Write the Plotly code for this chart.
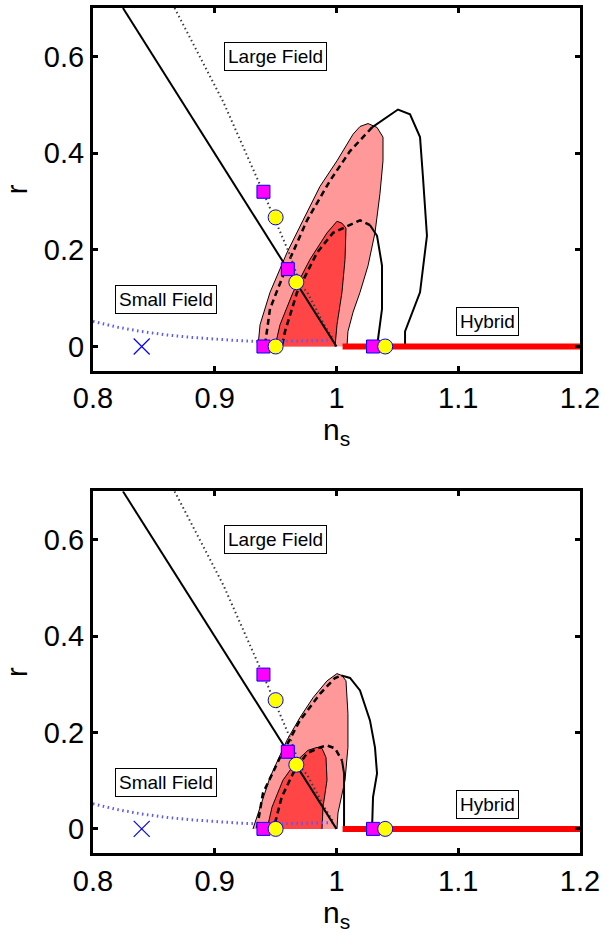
import plotly.graph_objects as go

# ---------------- data ----------------
# boundary line between large and small field models
ls_ns = [0.8246, 1.0]
ls_r = [0.70, 0.0]

# phi^p family (gray dotted)
php_ns = [0.867, 0.907, 0.940, 0.952, 0.962, 0.970, 0.976, 0.990, 0.997]
php_r = [0.70, 0.506, 0.318, 0.249, 0.188, 0.129, 0.112, 0.045, 0.016]

# small field curve (blue dotted)
sf_ns = [0.80, 0.82, 0.84, 0.86, 0.88, 0.90, 0.92, 0.94, 0.96, 0.98, 0.997]
sf_r = [0.052, 0.040, 0.031, 0.024, 0.019, 0.015, 0.012, 0.010, 0.011, 0.012, 0.013]

# hybrid line
hy_ns = [1.005, 1.2]
hy_r = [0.0, 0.0]

# X mark
x_ns = [0.84]
x_r = [0.0]

# model points
sq_ns = [0.94, 0.96, 0.94, 1.03]
sq_r = [0.32, 0.16, 0.0, 0.0]
ci_ns = [0.95, 0.967, 0.95, 1.04]
ci_r = [0.267, 0.133, 0.0, 0.0]

# ---- top panel contours ----
t_out_ns = [0.9355, 0.9372, 0.9454, 0.9593, 0.9725, 0.9864, 1.0004, 1.0136, 1.0193, 1.0259,
            1.0333, 1.0382, 1.0382, 1.0357, 1.0316, 1.0259, 1.0193, 1.0136, 1.0094, 1.0086]
t_out_r = [0.0, 0.045, 0.112, 0.194, 0.261, 0.331, 0.384, 0.439, 0.455, 0.461,
           0.453, 0.433, 0.384, 0.316, 0.235, 0.167, 0.112, 0.071, 0.031, 0.0]
t_in_ns = [0.9495, 0.9536, 0.9643, 0.9782, 0.9922, 1.0004, 1.0045, 1.0078, 1.0070, 1.0045, 1.0004, 0.9988]
t_in_r = [0.0, 0.045, 0.112, 0.180, 0.235, 0.259, 0.255, 0.245, 0.180, 0.112, 0.045, 0.0]

t_od_ns = [0.9413, 0.9454, 0.9593, 0.9758, 0.9947, 1.0111, 1.0292]
t_od_r = [0.004, 0.078, 0.167, 0.261, 0.343, 0.404, 0.453]
t_os_ns = [1.0292, 1.0505, 1.0604, 1.0686, 1.0710, 1.0743, 1.0686, 1.0604, 1.0563, 1.0563]
t_os_r = [0.453, 0.490, 0.480, 0.433, 0.351, 0.229, 0.112, 0.057, 0.031, 0.0]
t_id_ns = [0.9555, 0.9577, 0.9676, 0.9840, 0.9971, 1.0086, 1.0193, 1.0275]
t_id_r = [0.004, 0.031, 0.112, 0.194, 0.235, 0.249, 0.261, 0.251]
t_is_ns = [1.0275, 1.0333, 1.0374, 1.0374, 1.0333]
t_is_r = [0.251, 0.229, 0.167, 0.078, 0.0]

# ---- bottom panel contours ----
b_out_ns = [0.9314, 0.9372, 0.9454, 0.9593, 0.9700, 0.9807, 0.9922, 1.0004, 1.0045, 1.0078,
            1.0094, 1.0094, 1.0070, 1.0012, 1.0004]
b_out_r = [0.0, 0.045, 0.107, 0.184, 0.231, 0.272, 0.307, 0.322, 0.318, 0.307,
           0.239, 0.169, 0.101, 0.033, 0.0]
b_in_ns = [0.9430, 0.9470, 0.9560, 0.9676, 0.9766, 0.9840, 0.9881, 0.9914, 0.9922, 0.9889, 0.9881]
b_in_r = [0.0, 0.045, 0.101, 0.142, 0.163, 0.169, 0.167, 0.148, 0.101, 0.045, 0.0]

b_od_ns = [0.9347, 0.9396, 0.9536, 0.9700, 0.9864, 0.9988, 1.0040]
b_od_r = [0.002, 0.074, 0.148, 0.225, 0.280, 0.313, 0.318]
b_os_ns = [1.0040, 1.0111, 1.0193, 1.0275, 1.0316, 1.0333, 1.0300, 1.0292]
b_os_r = [0.318, 0.313, 0.287, 0.225, 0.169, 0.115, 0.066, 0.0]
b_id_ns = [0.9495, 0.9550, 0.9643, 0.9758, 0.9864, 0.9922, 0.9988, 1.0045]
b_id_r = [0.012, 0.066, 0.115, 0.157, 0.169, 0.173, 0.167, 0.142]
b_is_ns = [1.0045, 1.0062, 1.0062, 1.0062]
b_is_r = [0.142, 0.115, 0.060, 0.0]

x_ticks = [0.8, 0.9, 1.0, 1.1, 1.2]
y_ticks = [0, 0.2, 0.4, 0.6]

# ---------------- figure ----------------
FONT = "Liberation Sans, Arial, sans-serif"
LIGHT = "#ff9999"
DARK = "#ff4545"

fig = go.Figure()


def add_panel(fig, xa, ya, out_ns, out_r, in_ns, in_r, od_ns, od_r, os_ns, os_r,
              id_ns, id_r, is_ns, is_r):
    kw = dict(xaxis=xa, yaxis=ya, showlegend=False, hoverinfo="skip")
    fig.add_trace(go.Scatter(x=out_ns, y=out_r, mode="lines", fill="toself", fillcolor=LIGHT,
                             line=dict(color="black", width=1), **kw))
    fig.add_trace(go.Scatter(x=in_ns, y=in_r, mode="lines", fill="toself", fillcolor=DARK,
                             line=dict(color="black", width=1), **kw))
    fig.add_trace(go.Scatter(x=od_ns, y=od_r, mode="lines",
                             line=dict(color="black", width=2.5, dash="6px,4px"), **kw))
    fig.add_trace(go.Scatter(x=os_ns, y=os_r, mode="lines",
                             line=dict(color="black", width=2), **kw))
    fig.add_trace(go.Scatter(x=id_ns, y=id_r, mode="lines",
                             line=dict(color="black", width=2.5, dash="6px,4px"), **kw))
    fig.add_trace(go.Scatter(x=is_ns, y=is_r, mode="lines",
                             line=dict(color="black", width=2), **kw))
    fig.add_trace(go.Scatter(x=sf_ns, y=sf_r, mode="lines",
                             line=dict(color="#5a5aff", width=3, dash="1.5px,3.5px"), **kw))
    fig.add_trace(go.Scatter(x=php_ns, y=php_r, mode="lines",
                             line=dict(color="#3a3a3a", width=2, dash="1.5px,3px"), **kw))
    fig.add_trace(go.Scatter(x=ls_ns, y=ls_r, mode="lines",
                             line=dict(color="black", width=2), **kw))
    fig.add_trace(go.Scatter(x=hy_ns, y=hy_r, mode="lines",
                             line=dict(color="#ff0000", width=6), **kw))
    fig.add_trace(go.Scatter(x=x_ns, y=x_r, mode="markers",
                             marker=dict(symbol="x-thin", size=16, line=dict(color="#0000ff", width=1.2)), **kw))
    fig.add_trace(go.Scatter(x=sq_ns, y=sq_r, mode="markers",
                             marker=dict(symbol="square", size=13, color="#ff00ff",
                                         line=dict(color="#0000ff", width=1)), **kw))
    fig.add_trace(go.Scatter(x=ci_ns, y=ci_r, mode="markers",
                             marker=dict(symbol="circle", size=15, color="#ffff00",
                                         line=dict(color="#0000ff", width=1)), **kw))


add_panel(fig, "x", "y", t_out_ns, t_out_r, t_in_ns, t_in_r, t_od_ns, t_od_r, t_os_ns, t_os_r,
          t_id_ns, t_id_r, t_is_ns, t_is_r)
add_panel(fig, "x2", "y2", b_out_ns, b_out_r, b_in_ns, b_in_r, b_od_ns, b_od_r, b_os_ns, b_os_r,
          b_id_ns, b_id_r, b_is_ns, b_is_r)

axis_common = dict(showline=True, linewidth=3, linecolor="black", mirror="allticks",
                   ticks="inside", ticklen=5, tickwidth=3, tickcolor="black",
                   showgrid=False, zeroline=False,
                   tickfont=dict(family=FONT, size=29, color="black"))
title_font = dict(family=FONT, size=29, color="black")

fig.update_layout(
    width=605, height=933,
    margin=dict(l=93, r=25, t=5, b=80),
    paper_bgcolor="white", plot_bgcolor="white",
    xaxis=dict(domain=[0, 1], anchor="y", range=[0.8, 1.2], tickvals=x_ticks, **axis_common),
    yaxis=dict(domain=[0.5708, 1.0], anchor="x", range=[-0.05, 0.7], tickvals=y_ticks,
               title=dict(text="r", font=title_font, standoff=8),
               **axis_common),
    xaxis2=dict(domain=[0, 1], anchor="y2", range=[0.8, 1.2], tickvals=x_ticks, **axis_common),
    yaxis2=dict(domain=[0.0, 0.428], anchor="x2", range=[-0.05, 0.7], tickvals=y_ticks,
                title=dict(text="r", font=title_font, standoff=8),
                **axis_common),
)

# x-axis titles placed as annotations (closer to tick labels, as in the reference)
for xa, ya in [("x", "y"), ("x2", "y2")]:
    fig.add_annotation(x=0.5, y=-0.112, xref=f"{xa} domain", yref=f"{ya} domain",
                       text="n<sub>s</sub>", showarrow=False, xanchor="center", yanchor="top",
                       font=dict(family=FONT, size=30, color="black"))

labels = [("Large Field", 0.950, 0.60), ("Small Field", 0.860, 0.097), ("Hybrid", 1.1244, 0.051)]
for xa, ya in [("x", "y"), ("x2", "y2")]:
    for txt, lx, ly in labels:
        fig.add_annotation(x=lx, y=ly, xref=xa, yref=ya, text=txt, showarrow=False,
                           font=dict(family=FONT, size=19, color="black"),
                           bgcolor="white", bordercolor="black", borderwidth=1, borderpad=3)

fig.write_html("out.html")
